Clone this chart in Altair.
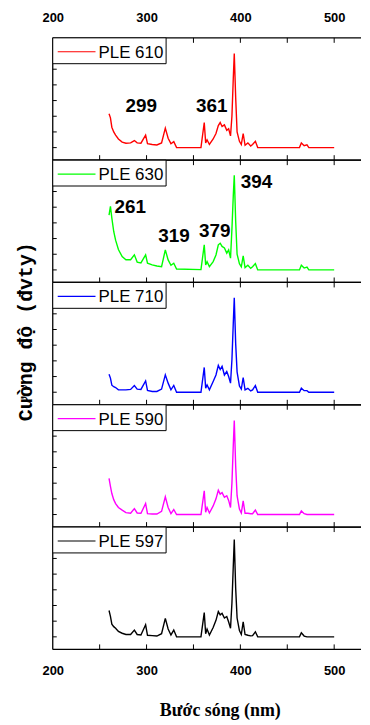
import altair as alt
import pandas as pd

# ---- data ----
WAVELENGTH = [260, 261.5, 263, 265, 267, 270, 274, 278, 283, 287, 290, 294, 299, 301, 306, 311, 316, 320, 323, 326, 329, 332,
              358, 361.5, 363, 364.5, 367, 371, 374, 376.5, 378.5, 380.5, 383, 385.5, 387.5, 389.5, 391, 392.5, 393.5, 395,
              396.5, 399, 401, 403, 405, 408, 411, 413, 416, 418.5, 463, 465, 468, 471, 473, 500]

PLE_610 = [2.16, 1.9, 1.3, 1.0, 0.8, 0.55, 0.35, 0.28, 0.3, 0.45, 0.3, 0.28, 0.8, 0.25, 0.2, 0.17, 0.3, 1.24, 0.6, 0.25, 0.38, 0,
           0, 1.6, 0.3, 0.5, 0.2, 0.55, 0.9, 1.4, 1.6, 1.35, 1.45, 1.1, 1.2, 0.75, 2.0, 4.5, 6.0, 3.2,
           1.0, 0.4, 0.2, 0.9, 0.15, 0.3, 0.1, 0.2, 0.4, 0, 0, 0.3, 0.12, 0.18, 0, 0]
PLE_630 = [3.5, 4.06, 3.3, 2.45, 1.9, 1.3, 0.85, 0.65, 0.65, 0.96, 0.5, 0.45, 0.96, 0.43, 0.32, 0.25, 0.21, 1.28, 0.64, 0.3, 0.43, 0.06,
           0.02, 1.6, 0.32, 0.53, 0.21, 0.53, 0.95, 1.6, 1.7, 1.5, 1.4, 1.07, 1.28, 0.75, 2.6, 4.8, 6.04, 3.1,
           1.0, 0.4, 0.2, 0.9, 0.15, 0.3, 0.1, 0.2, 0.4, 0, 0, 0.3, 0.12, 0.18, 0, 0]
PLE_710 = [1.15, 0.9, 0.45, 0.35, 0.3, 0.15, 0.15, 0.15, 0.18, 0.43, 0.2, 0.18, 0.72, 0.12, 0.05, 0.05, 0.2, 1.11, 0.58, 0.15, 0.43, 0,
           0, 1.58, 0.26, 0.47, 0.15, 0.68, 1.1, 1.71, 1.45, 1.66, 1.1, 1.32, 1.0, 0.58, 2.07, 4.5, 6.03, 3.1,
           1.3, 0.4, 0.2, 0.94, 0.15, 0.25, 0.08, 0.15, 0.43, 0, 0, 0.26, 0.1, 0.1, 0, 0]
PLE_590 = [2.3, 1.8, 1.34, 0.95, 0.7, 0.45, 0.28, 0.12, 0.08, 0.38, 0.1, 0.08, 0.7, 0.06, 0.03, 0.03, 0.2, 1.13, 0.45, 0.06, 0.32, 0,
           0, 1.51, 0.15, 0.45, 0.1, 0.55, 1.0, 1.55, 1.3, 1.4, 1.1, 1.2, 0.9, 0.45, 2.0, 4.5, 6.0, 3.1,
           1.2, 0.35, 0.1, 0.87, 0.08, 0.08, 0.05, 0.05, 0.28, 0, 0, 0.23, 0.05, 0, 0, 0]
PLE_597 = [1.68, 1.3, 0.81, 0.65, 0.55, 0.35, 0.23, 0.15, 0.15, 0.43, 0.15, 0.12, 0.77, 0.1, 0.08, 0.05, 0.2, 1.18, 0.5, 0.12, 0.43, 0,
           0, 1.55, 0.2, 0.5, 0.12, 0.6, 1.05, 1.61, 1.4, 1.5, 1.2, 1.3, 0.95, 0.55, 2.15, 4.6, 6.2, 3.1,
           1.2, 0.4, 0.15, 0.96, 0.15, 0.1, 0.06, 0.08, 0.32, 0, 0, 0.26, 0.05, 0, 0, 0]

SERIES = [PLE_610, PLE_630, PLE_710, PLE_590, PLE_597]
NAMES = ["PLE 610", "PLE 630", "PLE 710", "PLE 590", "PLE 597"]
COLORS = ["#ff0000", "#00ff00", "#0000ff", "#ff00ff", "#000000"]

X_LABELS = [200, 300, 400, 500]
X_TICKS = [250, 300, 350, 400, 450, 500]
Y_TICKS = [0, 1, 2, 3, 4, 5, 6]

ANN_PANEL = [0, 0, 1, 1, 1, 1]
ANN_TEXT = ["299", "361", "261", "319", "379", "394"]
ANN_X = [294.3, 369.6, 282.7, 329.3, 372.8, 417.3]
ANN_Y = [2.63, 2.63, 4.0, 2.16, 2.47, 5.58]

Y_TITLE = "Cường độ (đvty)"
X_TITLE = "Bước sóng (nm)"

# ---- layout ----
W, H = 310, 123
XS = alt.Scale(domain=[200, 528.6], nice=False, zero=False)
YS = alt.Scale(domain=[-0.8, 7.0], nice=False, zero=False)
LABEL_FONT = "Liberation Sans"


def panel_table(i):
    rows = []
    for x, y in zip(WAVELENGTH, SERIES[i]):
        rows.append({"kind": "line", "x": x, "y": y, "t": ""})
    for t in X_TICKS:
        rows.append({"kind": "xt", "x": t, "y": 0, "t": ""})
    for t in Y_TICKS:
        rows.append({"kind": "yt", "x": 200, "y": t, "t": ""})
    for p, t, x, y in zip(ANN_PANEL, ANN_TEXT, ANN_X, ANN_Y):
        if p == i:
            rows.append({"kind": "ann", "x": x, "y": y, "t": t})
    rows.append({"kind": "legend", "x": 200, "y": 0, "t": NAMES[i]})
    return pd.DataFrame(rows)


def make_panel(i):
    if i == 0:
        xaxis = alt.Axis(orient="top", values=X_LABELS, ticks=False, domain=False, grid=False,
                         labelFlush=False, labelPadding=13, labelFontSize=13, labelFontWeight="bold",
                         labelFont=LABEL_FONT, labelColor="black", title=None)
    elif i == 4:
        xaxis = alt.Axis(orient="bottom", values=X_LABELS, ticks=False, domain=False, grid=False,
                         labelFlush=False, labelPadding=15, labelFontSize=13, labelFontWeight="bold",
                         labelFont=LABEL_FONT, labelColor="black",
                         title=X_TITLE, titleFont="Liberation Serif", titleFontSize=18,
                         titleFontWeight="bold", titleColor="black", titlePadding=24, titleX=168)
    else:
        xaxis = None
    if i == 2:
        yaxis = alt.Axis(title=Y_TITLE, labels=False, ticks=False, domain=False, grid=False,
                         titleFont="Liberation Mono", titleFontSize=20, titleFontWeight="bold",
                         titleColor="black", titlePadding=17, titleY=49)
    else:
        yaxis = None

    base = alt.Chart(panel_table(i)).encode(
        x=alt.X("x:Q", scale=XS, axis=xaxis),
        y=alt.Y("y:Q", scale=YS, axis=yaxis),
    )
    line = base.transform_filter(alt.datum.kind == "line").mark_line(color=COLORS[i], strokeWidth=1.4)
    ann = base.transform_filter(alt.datum.kind == "ann").mark_text(
        font=LABEL_FONT, fontSize=19, fontWeight="bold",
        color="black", align="center", baseline="middle").encode(text="t:N")
    xt = base.transform_filter(alt.datum.kind == "xt")
    top_ticks = xt.mark_rule(color="black", strokeWidth=1).encode(y=alt.value(0), y2=alt.value(5))
    bot_ticks = xt.mark_rule(color="black", strokeWidth=1).encode(y=alt.value(H - 5), y2=alt.value(H))
    y_ticks = base.transform_filter(alt.datum.kind == "yt").mark_rule(color="black", strokeWidth=1).encode(
        x=alt.value(0), x2=alt.value(4))
    leg = base.transform_filter(alt.datum.kind == "legend")
    # panel frame: top, bottom and left edges (the right edge lies outside the reference picture)
    frame_top = leg.mark_rule(color="black", strokeWidth=1.3).encode(
        x=alt.value(0), x2=alt.value(W), y=alt.value(0))
    frame_bot = leg.mark_rule(color="black", strokeWidth=1.3).encode(
        x=alt.value(0), x2=alt.value(W), y=alt.value(H))
    frame_left = leg.mark_rule(color="black", strokeWidth=1.3).encode(
        x=alt.value(0), y=alt.value(0), y2=alt.value(H))
    box = leg.mark_rect(fill="white", stroke="black", strokeWidth=1).encode(
        x=alt.value(0), x2=alt.value(114), y=alt.value(0), y2=alt.value(26))
    sample = leg.mark_rule(color=COLORS[i], strokeWidth=1.2).encode(
        x=alt.value(5), x2=alt.value(43), y=alt.value(14))
    label = leg.mark_text(align="left", baseline="alphabetic", fontSize=17, font=LABEL_FONT,
                          color="black").encode(x=alt.value(46), y=alt.value(20), text="t:N")

    return alt.layer(line, ann, top_ticks, bot_ticks, y_ticks, frame_top, frame_bot, frame_left,
                     box, sample, label).properties(width=W, height=H)


chart = alt.vconcat(*[make_panel(i) for i in range(5)], spacing=0, bounds="flush").properties(
    padding={"left": 7, "top": 2, "right": 0, "bottom": 0}
).configure_view(strokeWidth=0)

chart.save("out.html", embed_options={"renderer": "svg", "actions": False})
